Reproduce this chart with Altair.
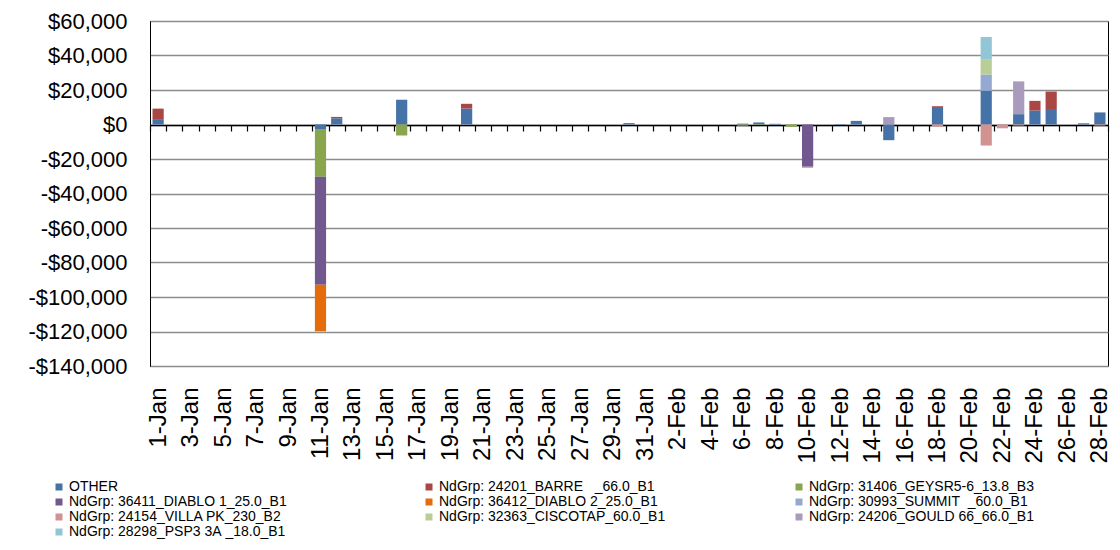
import altair as alt
import pandas as pd

# Categories: every day from 1-Jan to 28-Feb
days = [f"{d}-Jan" for d in range(1, 32)] + [f"{d}-Feb" for d in range(1, 29)]
label_days = days[::2]

series_names = [
    "OTHER",
    "NdGrp: 24201_BARRE\u00a0\u00a0\u00a0_66.0_B1",
    "NdGrp: 31406_GEYSR5-6_13.8_B3",
    "NdGrp: 36411_DIABLO 1_25.0_B1",
    "NdGrp: 36412_DIABLO 2_25.0_B1",
    "NdGrp: 30993_SUMMIT\u00a0\u00a0_60.0_B1",
    "NdGrp: 24154_VILLA PK_230_B2",
    "NdGrp: 32363_CISCOTAP_60.0_B1",
    "NdGrp: 24206_GOULD 66_66.0_B1",
    "NdGrp: 28298_PSP3 3A\u00a0_18.0_B1",
]
series_colors = [
    "#4572A7", "#AA4643", "#89A54E", "#71588F", "#E46C0A",
    "#93A9CF", "#D19392", "#B9CD96", "#A99BBD", "#92C5D6",
]

# Values per series (day -> $)
other = {"1-Jan": 2700, "11-Jan": -3000, "12-Jan": 3600, "16-Jan": 14300,
         "20-Jan": 9300, "30-Jan": 800, "6-Feb": 500, "7-Feb": 1200,
         "8-Feb": 400, "12-Feb": 300, "13-Feb": 2100, "15-Feb": -9100,
         "18-Feb": 9600, "21-Feb": 19500, "23-Feb": 6000, "24-Feb": 8100,
         "25-Feb": 9000, "27-Feb": 700, "28-Feb": 7000}
barre = {"1-Jan": 6500, "12-Jan": 800, "20-Jan": 2700, "18-Feb": 1000,
         "24-Feb": 5600, "25-Feb": 10100}
geysr = {"11-Jan": -27300, "16-Jan": -6400, "6-Feb": -700, "7-Feb": -300,
         "9-Feb": -1300}
diablo1 = {"11-Jan": -62600, "10-Feb": -24500}
diablo2 = {"11-Jan": -27000}
summit = {"21-Feb": 9500}
villa = {"10-Feb": -600, "18-Feb": -1300, "21-Feb": -12200, "22-Feb": -2200,
         "23-Feb": -600, "28-Feb": -600}
ciscotap = {"21-Feb": 8900}
gould = {"15-Feb": 4300, "23-Feb": 19000}
psp3 = {"21-Feb": 12800}

series_values = [other, barre, geysr, diablo1, diablo2, summit, villa,
                 ciscotap, gould, psp3]

rows = []
for i, (name, vals) in enumerate(zip(series_names, series_values)):
    for day, v in vals.items():
        rows.append({"day": day, "series": name, "value": v, "order": i})
df = pd.DataFrame(rows)

y_ticks = list(range(-140000, 60001, 20000))
label_list = "[" + ",".join(f"'{d}'" for d in label_days) + "]"

bars = alt.Chart(df).mark_bar(width=alt.RelativeBandSize(0.69)).encode(
    x=alt.X(
        "day:N",
        sort=days,
        scale=alt.Scale(domain=days, paddingInner=0, paddingOuter=0),
        axis=alt.Axis(
            title=None,
            offset=-241,
            domainColor="#000000",
            domainWidth=1.5,
            tickColor="#000000",
            tickWidth=1.2,
            tickSize=6,
            tickBand="extent",
            labelAngle=-90,
            labelPadding=256,
            labelFontSize=24,
            labelColor="#000000",
            labelOverlap=False,
            labelExpr=f"indexof({label_list}, datum.value) >= 0 ? datum.label : ''",
            grid=False,
        ),
    ),
    y=alt.Y(
        "value:Q",
        stack="zero",
        scale=alt.Scale(domain=[-140000, 60000], nice=False, zero=False),
        axis=alt.Axis(
            title=None,
            values=y_ticks,
            grid=True,
            gridColor="#8c8c8c",
            gridWidth=1.5,
            domainColor="#000000",
            domainWidth=1,
            ticks=False,
            labelPadding=23,
            labelFontSize=22,
            labelColor="#000000",
            labelExpr="datum.value < 0 ? '-$' + format(-datum.value, ',') : '$' + format(datum.value, ',')",
        ),
    ),
    color=alt.Color(
        "series:N",
        scale=alt.Scale(domain=series_names, range=series_colors),
        legend=alt.Legend(
            title=None,
            orient="none",
            direction="horizontal",
            legendX=-98,
            legendY=459,
            columns=3,
            gridAlign="all",
            columnPadding=126,
            rowPadding=1,
            symbolType="square",
            symbolSize=49,
            symbolStrokeWidth=0,
            labelFontSize=14,
            labelLimit=400,
            labelOffset=3,
            labelColor="#000000",
            padding=0,
        ),
    ),
    order=alt.Order("order:Q", sort="ascending"),
)

chart = bars.properties(
    width=958,
    height=345,
    autosize=alt.AutoSizeParams(type="none"),
    padding={"left": 142, "top": 13, "right": 4, "bottom": 176},
).configure(
    font="Liberation Sans",
).configure_view(
    stroke="#000000",
    strokeWidth=1,
)

chart.save("out.html", embed_options={"renderer": "svg", "actions": False})
